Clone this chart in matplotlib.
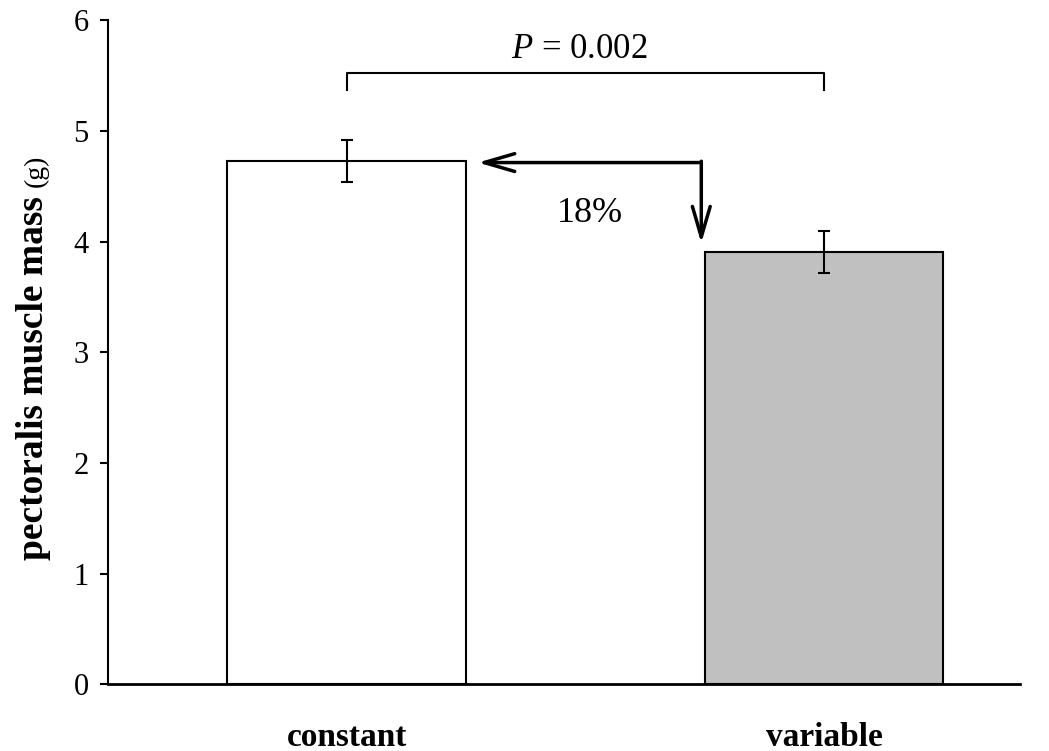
"""Pectoralis muscle mass, constant vs variable treatment."""

import numpy as np
import matplotlib.pyplot as plt

plt.rcParams["font.family"] = ["Liberation Serif", "DejaVu Serif"]
plt.rcParams["mathtext.fontset"] = "custom"
plt.rcParams["mathtext.it"] = "Liberation Serif:italic"
plt.rcParams["mathtext.rm"] = "Liberation Serif"

# ── Data ─────────────────────────────────────────────────────────────────────
groups = ["constant", "variable"]
mass_mean = [4.73, 3.91]
mass_err = [0.19, 0.19]
bar_colors = ["white", "#c0c0c0"]
p_text = "0.002"
diff_text = "18%"

x = np.arange(len(groups))

fig = plt.figure(figsize=(10.49, 7.51), dpi=100)
ax = fig.add_axes([0.103, 0.089, 0.869, 0.884])

ax.bar(x, mass_mean, width=0.5, color=bar_colors, edgecolor="black",
       linewidth=1.5, zorder=2)
ax.errorbar(x, mass_mean, yerr=mass_err, fmt="none", ecolor="black",
            elinewidth=1.5, capsize=4.5, capthick=1.5, zorder=3)

# ── Significance bracket ──────────────────────────────────────────────────────
top = 5.52
ax.plot([x[0], x[0], x[1], x[1]], [top - 0.15, top, top, top - 0.15],
        color="black", lw=1.5)
ax.text((x[0] + x[1]) / 2 - 0.012, top + 0.07, "$P$ = " + p_text,
        ha="center", va="bottom", fontsize=25)

# ── Difference arrow ──────────────────────────────────────────────────────────
arrow_y = 4.714
corner_x = x[1] - 0.257
head = "->,head_length=1.1,head_width=0.32"
ax.annotate("", xy=(x[0] + 0.275, arrow_y), xytext=(corner_x, arrow_y),
            arrowprops=dict(arrowstyle=head, color="black", lw=2.5,
                            mutation_scale=20, shrinkA=0, shrinkB=0))
ax.annotate("", xy=(corner_x, 3.985), xytext=(corner_x, arrow_y + 0.012),
            arrowprops=dict(arrowstyle=head, color="black", lw=2.5,
                            mutation_scale=20, shrinkA=0, shrinkB=0))
ax.text(0.51, 4.25, diff_text, ha="center", va="center", fontsize=26)

# ── Axes ──────────────────────────────────────────────────────────────────────
ax.set_xlim(-0.5, 1.41)
ax.set_ylim(0, 6)
ax.set_yticks(range(0, 7))
ax.set_xticks(x)
ax.set_xticklabels(groups, fontsize=24, fontweight="bold")
ax.tick_params(axis="x", length=0, pad=27)
ax.tick_params(axis="y", labelsize=22, length=6, width=1.5, pad=8)
for side in ["top", "right"]:
    ax.spines[side].set_visible(False)
ax.spines["left"].set_linewidth(1.5)
ax.spines["bottom"].set_linewidth(2)

# ── Y label: bold text followed by a smaller regular "(g)" ────────────────────
lab = fig.text(43 / 1049, 1 - 560 / 751, "pectoralis muscle mass",
               rotation=90, rotation_mode="anchor", ha="left", va="baseline",
               fontsize=27, fontweight="bold")
fig.canvas.draw()
bb = lab.get_window_extent().transformed(fig.transFigure.inverted())
fig.text(43 / 1049, bb.y1 + 0.012, "(g)", rotation=90,
         rotation_mode="anchor", ha="left", va="baseline", fontsize=20)

fig.savefig("out.png", dpi=100)
